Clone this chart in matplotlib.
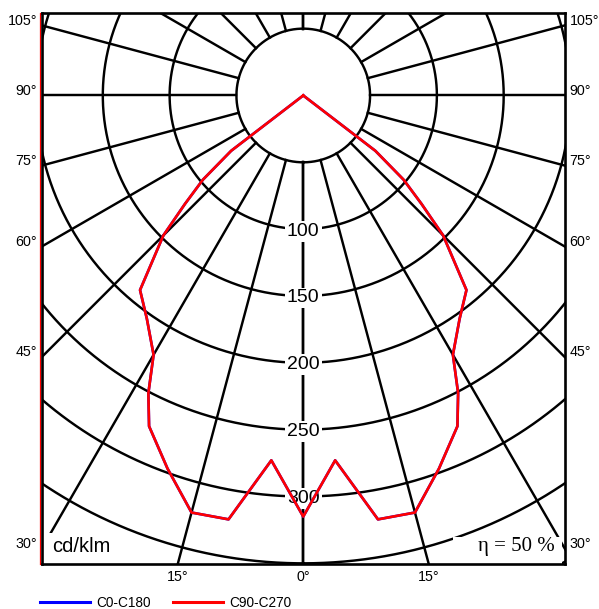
import numpy as np
import matplotlib as mpl
mpl.use('Agg')
import matplotlib.pyplot as plt
import matplotlib.transforms as mtransforms
from matplotlib.patches import Rectangle

plt.rcParams['font.family'] = ['Liberation Sans', 'DejaVu Sans']

# luminous intensity (cd/klm) against gamma angle measured from nadir
gamma = [0, 5, 10, 15, 20, 25, 27.5, 30, 35, 40, 45, 47.5, 50, 52.5, 55, 90, 180]
i_c0 = [315, 274, 322, 323, 297, 273, 251, 224, 204, 190, 148, 120, 98, 68, 0, 0, 0]
i_c90 = [315, 274, 322, 323, 297, 273, 251, 224, 204, 190, 148, 120, 98, 68, 0, 0, 0]

ring_values = [50, 100, 150, 200, 250, 300, 350, 400]
ring_labels = [100, 150, 200, 250, 300]
spoke_angles = list(range(0, 181, 15))
side_labels = [30, 45, 60, 75, 90, 105]
bottom_labels = [-15, 0, 15]
efficiency = 50
legend_names = ['C0-C180', 'C90-C270']

XMAX = 195.5
YMIN, YMAX = -350.5, 61.7


def polar(r, g):
    g = np.radians(g)
    return np.asarray(r) * np.sin(g), -np.asarray(r) * np.cos(g)


fig = plt.figure(figsize=(5.99, 6.09), dpi=100)
ax = fig.add_axes([42 / 599, 45 / 609, 522.5 / 599, 551 / 609])
ax.set_xlim(-XMAX, XMAX)
ax.set_ylim(YMIN, YMAX)
ax.set_xticks([])
ax.set_yticks([])
for s in ax.spines.values():
    s.set_linewidth(1.9)
    s.set_zorder(6)

# grid: rings and spokes (spokes start at the 50 ring)
t = np.linspace(0, 360, 1441)
for R in ring_values:
    x, y = polar(R, t)
    ax.plot(x, y, color='black', lw=1.75, zorder=1)
for a in spoke_angles:
    for side in (-1, 1):
        x, y = polar([50, 700], side * a)
        ax.plot(x, y, color='black', lw=1.75, zorder=1)

for R in ring_labels:
    ax.text(0, -R - 1.5, str(R), ha='center', va='center', fontsize=14, zorder=3,
            bbox=dict(boxstyle='square,pad=0.1', fc='white', ec='none'))

# curves, mirrored to both sides
g = np.array(gamma)
gg = np.concatenate([-g[::-1], g[1:]])
c0 = np.concatenate([np.array(i_c0)[::-1], np.array(i_c0)[1:]])
c90 = np.concatenate([np.array(i_c90)[::-1], np.array(i_c90)[1:]])
x, y = polar(c0, gg)
l0, = ax.plot(x, y, color='#0000ff', lw=1.9, zorder=4)
x, y = polar(c90, gg)
l90, = ax.plot(x, y, color='#ff0000', lw=1.9, zorder=5)

# red trace along the left frame edge
off = mtransforms.ScaledTranslation(-1.7 / 100, 0, fig.dpi_scale_trans)
ax.plot([0, 0], [0, 1], color='#ff0000', lw=0.9, transform=ax.transAxes + off,
        clip_on=False, zorder=5)

# angle labels
for a in side_labels:
    r = XMAX / np.sin(np.radians(a))
    yy = -r * np.cos(np.radians(a))
    ax.annotate(f'{a}°', xy=(-XMAX, yy), xytext=(-5, 4.5), textcoords='offset pixels',
                ha='right', va='center', fontsize=10.3, annotation_clip=False)
    ax.annotate(f'{a}°', xy=(XMAX, yy), xytext=(5, 4.5), textcoords='offset pixels',
                ha='left', va='center', fontsize=10.3, annotation_clip=False)
for a in bottom_labels:
    xx = -YMIN * np.tan(np.radians(a))
    ax.annotate(f'{abs(a)}°', xy=(xx, YMIN), xytext=(0, -13), textcoords='offset pixels',
                ha='center', va='center', fontsize=10.3, annotation_clip=False)

# unit and efficiency boxes
ax.add_patch(Rectangle((0, 0), 0.136, 0.056, transform=ax.transAxes, fc='white',
                       ec='none', zorder=3))
ax.add_patch(Rectangle((0.787, 0), 0.208, 0.049, transform=ax.transAxes, fc='white',
                       ec='none', zorder=3))
ax.text(0.019, 0.031, 'cd/klm', transform=ax.transAxes, ha='left', va='center',
        fontsize=14.5, zorder=4)
ax.text(0.982, 0.032, f'η = {efficiency} %', transform=ax.transAxes, ha='right',
        va='center', fontsize=15, family='Liberation Serif', zorder=4)

fig.legend([l0, l90], legend_names, loc='center left',
           bbox_to_anchor=(40 / 599, 6 / 609), ncol=2, frameon=False, fontsize=9.8,
           handlelength=3.7, handletextpad=0.45, columnspacing=1.6, borderpad=0,
           borderaxespad=0)
for h in fig.legends[0].get_lines():
    h.set_linewidth(2.2)

fig.savefig('out.png', dpi=100)
